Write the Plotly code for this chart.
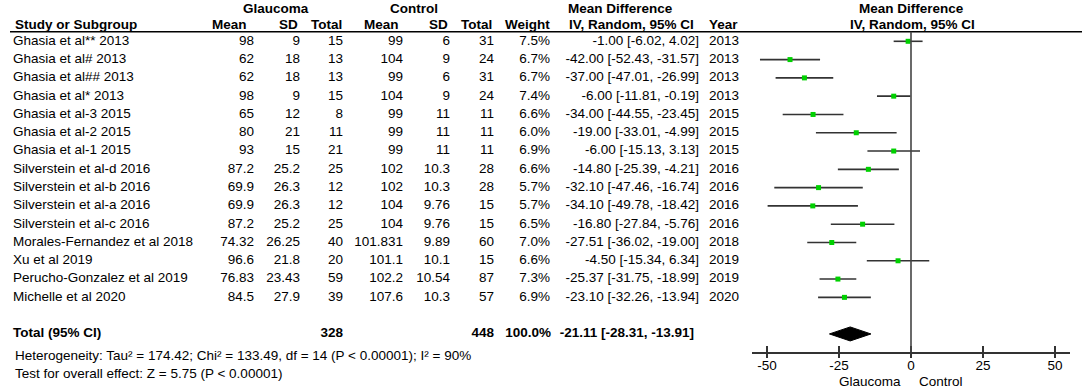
import plotly.graph_objects as go

# ---------------- data ----------------
studies = ["Ghasia et al** 2013", "Ghasia et al# 2013", "Ghasia et al## 2013", "Ghasia et al* 2013",
           "Ghasia et al-3 2015", "Ghasia et al-2 2015", "Ghasia et al-1 2015",
           "Silverstein et al-d 2016", "Silverstein et al-b 2016", "Silverstein et al-a 2016",
           "Silverstein et al-c 2016", "Morales-Fernandez et al 2018", "Xu et al 2019",
           "Perucho-Gonzalez et al 2019", "Michelle et al 2020"]
g_mean = [98, 62, 62, 98, 65, 80, 93, 87.2, 69.9, 69.9, 87.2, 74.32, 96.6, 76.83, 84.5]
g_sd = [9, 18, 18, 9, 12, 21, 15, 25.2, 26.3, 26.3, 25.2, 26.25, 21.8, 23.43, 27.9]
g_n = [15, 13, 13, 15, 8, 11, 21, 25, 12, 12, 25, 40, 20, 59, 39]
c_mean = [99, 104, 99, 104, 99, 99, 99, 102, 102, 104, 104, 101.831, 101.1, 102.2, 107.6]
c_sd = [6, 9, 6, 9, 11, 11, 11, 10.3, 10.3, 9.76, 9.76, 9.89, 10.1, 10.54, 10.3]
c_n = [31, 24, 31, 24, 11, 11, 11, 28, 28, 15, 15, 60, 15, 87, 57]
weight = [7.5, 6.7, 6.7, 7.4, 6.6, 6.0, 6.9, 6.6, 5.7, 5.7, 6.5, 7.0, 6.6, 7.3, 6.9]
md = [-1.00, -42.00, -37.00, -6.00, -34.00, -19.00, -6.00, -14.80, -32.10, -34.10, -16.80,
      -27.51, -4.50, -25.37, -23.10]
ci_lo = [-6.02, -52.43, -47.01, -11.81, -44.55, -33.01, -15.13, -25.39, -47.46, -49.78, -27.84,
         -36.02, -15.34, -31.75, -32.26]
ci_hi = [4.02, -31.57, -26.99, -0.19, -23.45, -4.99, 3.13, -4.21, -16.74, -18.42, -5.76,
         -19.00, 6.34, -18.99, -13.94]
years = [2013, 2013, 2013, 2013, 2015, 2015, 2015, 2016, 2016, 2016, 2016, 2018, 2019, 2019, 2020]

total_g_n = 328
total_c_n = 448
total_weight = 100.0
total_md = -21.11
total_lo = -28.31
total_hi = -13.91

heterogeneity = "Heterogeneity: Tau² = 174.42; Chi² = 133.49, df = 14 (P < 0.00001); I² = 90%"
overall = "Test for overall effect: Z = 5.75 (P < 0.00001)"
x_ticks = [-50, -25, 0, 25, 50]

# ---------------- layout helpers ----------------
W, H = 1085, 390
FONT = "Liberation Sans, Arial, sans-serif"
FS = 13.5
ROW0_PX, ROW_STEP = 41.3, 18.29


def ypx(p):
    """pixel row -> row-unit y coordinate"""
    return (p - ROW0_PX) / ROW_STEP


n = len(studies)
rows = list(range(n))
total_row = n + 1
axis_row = ypx(352)


def fmt(v):
    return f"{v:g}"


fig = go.Figure()

# text columns (x2 = pixel-like column axis)
cols = [
    (studies, 13, "middle right"),
    ([fmt(v) for v in g_mean], 254, "middle left"),
    ([fmt(v) for v in g_sd], 300, "middle left"),
    ([str(v) for v in g_n], 343, "middle left"),
    ([fmt(v) for v in c_mean], 403, "middle left"),
    ([fmt(v) for v in c_sd], 450, "middle left"),
    ([str(v) for v in c_n], 494, "middle left"),
    ([f"{v:.1f}%" for v in weight], 550, "middle left"),
    ([f"{m:.2f} [{l:.2f}, {h:.2f}]" for m, l, h in zip(md, ci_lo, ci_hi)], 699, "middle left"),
    ([str(v) for v in years], 739, "middle left"),
]
for txt, xp, pos in cols:
    fig.add_trace(go.Scatter(x=[xp] * n, y=rows, text=txt, mode="text", textposition=pos,
                             textfont=dict(family=FONT, size=FS, color="black"),
                             xaxis="x2", yaxis="y", hoverinfo="skip", showlegend=False))

# total row (bold)
tot_cols = [
    ("<b>Total (95% CI)</b>", 13, "middle right"),
    (f"<b>{total_g_n}</b>", 343, "middle left"),
    (f"<b>{total_c_n}</b>", 494, "middle left"),
    (f"<b>{total_weight:.1f}%</b>", 551, "middle left"),
    (f"<b>{total_md:.2f} [{total_lo:.2f}, {total_hi:.2f}]</b>", 694, "middle left"),
]
for txt, xp, pos in tot_cols:
    fig.add_trace(go.Scatter(x=[xp], y=[total_row], text=[txt], mode="text", textposition=pos,
                             textfont=dict(family=FONT, size=FS, color="black"),
                             xaxis="x2", yaxis="y", hoverinfo="skip", showlegend=False))

# CI lines
for i in rows:
    fig.add_trace(go.Scatter(x=[ci_lo[i], ci_hi[i]], y=[i, i], mode="lines",
                             line=dict(color="#333333", width=1.6),
                             xaxis="x", yaxis="y", hoverinfo="skip", showlegend=False))
# point estimates
fig.add_trace(go.Scatter(x=md, y=rows, mode="markers",
                         marker=dict(symbol="square", size=5, color="#00d000",
                                     line=dict(width=0)),
                         xaxis="x", yaxis="y", hoverinfo="skip", showlegend=False))
# diamond
dh = 7 / ROW_STEP
fig.add_trace(go.Scatter(x=[total_lo, total_md, total_hi, total_md, total_lo],
                         y=[total_row, total_row - dh, total_row, total_row + dh, total_row],
                         mode="lines", fill="toself", fillcolor="black",
                         line=dict(color="black", width=1),
                         xaxis="x", yaxis="y", hoverinfo="skip", showlegend=False))

# shapes: header line and zero line
fig.add_shape(type="line", xref="x2", yref="y", x0=10, x1=1082, y0=ypx(31.7), y1=ypx(31.7),
              line=dict(color="black", width=1.6))
fig.add_shape(type="line", xref="x", yref="y", x0=0, x1=0, y0=ypx(31.7), y1=axis_row,
              line=dict(color="#444444", width=1.6))


def ann(text, x, y, anchor, bold=False):
    fig.add_annotation(text=f"<b>{text}</b>" if bold else text, x=x, y=y, xref="x2", yref="y",
                       xanchor=anchor, yanchor="middle", showarrow=False,
                       font=dict(family=FONT, size=FS, color="black"))


h1, h2 = ypx(8.5), ypx(24)
ann("Glaucoma", 276, h1, "center", True)
ann("Control", 414, h1, "center", True)
ann("Mean Difference", 620, h1, "center", True)
ann("Mean Difference", 911, h1, "center", True)
ann("Study or Subgroup", 13, h2, "left", True)
ann("Mean", 249, h2, "right", True)
ann("SD", 300, h2, "right", True)
ann("Total", 344, h2, "right", True)
ann("Mean", 401, h2, "right", True)
ann("SD", 450, h2, "right", True)
ann("Total", 494, h2, "right", True)
ann("Weight", 552, h2, "right", True)
ann("IV, Random, 95% CI", 696, h2, "right", True)
ann("Year", 740, h2, "right", True)
ann("IV, Random, 95% CI", 912, h2, "center", True)
ann(heterogeneity, 13, ypx(355), "left")
ann(overall, 13, ypx(373), "left")
ann("Glaucoma", 903, ypx(381), "right")
ann("Control", 917, ypx(381), "left")

axis_pos = 1 - 352 / H
x_lo, x_hi = -55.2, 55.2
dom = [752 / W, 1070 / W]
fig.update_layout(
    width=W, height=H,
    margin=dict(l=0, r=0, t=0, b=0),
    paper_bgcolor="white", plot_bgcolor="rgba(0,0,0,0)",
    showlegend=False,
    xaxis=dict(domain=dom, range=[x_lo, x_hi], anchor="free", position=axis_pos,
               showline=True, linecolor="#333333", linewidth=1.6,
               ticks="inside", ticklen=6, tickwidth=1.5, tickcolor="#333333",
               tickvals=x_ticks, ticktext=[str(t) for t in x_ticks],
               tickfont=dict(family=FONT, size=FS, color="black"),
               showgrid=False, zeroline=False, fixedrange=True),
    xaxis3=dict(domain=dom, range=[x_lo, x_hi], overlaying="x", anchor="free", position=axis_pos,
                showline=False, ticks="outside", ticklen=5, tickwidth=1.5, tickcolor="#333333",
                tickvals=x_ticks, showticklabels=False, showgrid=False, zeroline=False),
    xaxis2=dict(domain=[0, 1], range=[0, W], anchor="y", visible=False, fixedrange=True),
    yaxis=dict(domain=[0, 1], range=[ypx(H), ypx(0)], visible=False, fixedrange=True),
)
# invisible point so xaxis3 is drawn
fig.add_trace(go.Scatter(x=[0], y=[0], xaxis="x3", yaxis="y", mode="markers",
                         marker=dict(opacity=0), hoverinfo="skip", showlegend=False))

fig.write_html("out.html",
               config={"displayModeBar": False, "staticPlot": True},
               post_script="document.body.style.margin='0';document.body.style.overflow='hidden';")
